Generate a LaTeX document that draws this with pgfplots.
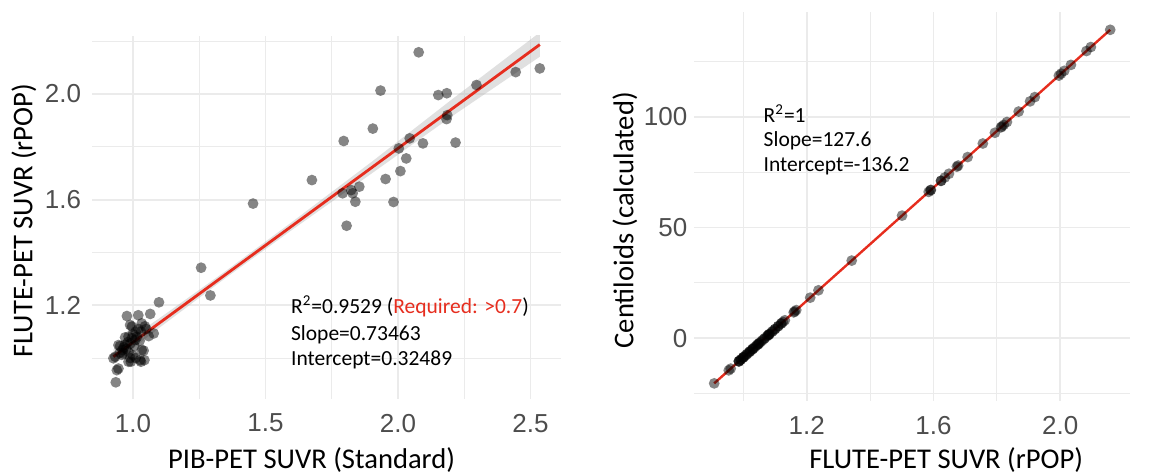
\documentclass[border=0pt]{standalone}
\usepackage{pgfplots}
\pgfplotsset{compat=1.18}
\usepackage{pgfplotstable}
\usepackage{fontspec}
\setmainfont{Carlito}
\newfontfamily\tickfont{Liberation Sans}

\definecolor{fitred}{RGB}{230,45,30}
\definecolor{ticklab}{RGB}{77,77,77}
\definecolor{gridc}{RGB}{235,235,235}

% PIB-PET SUVR vs FLUTE-PET SUVR
\pgfplotstableread{
x y
2.078 2.158
2.535 2.097
2.444 2.083
2.296 2.034
1.934 2.013
2.152 1.996
2.184 2.003
2.186 1.920
2.183 1.905
1.905 1.869
1.795 1.822
2.044 1.832
2.094 1.813
2.217 1.816
2.003 1.794
2.031 1.756
2.009 1.708
1.953 1.678
1.675 1.674
1.453 1.585
1.791 1.624
1.823 1.636
1.854 1.649
1.829 1.624
1.839 1.592
1.983 1.591
1.806 1.501
1.257 1.342
1.292 1.237
1.098 1.211
0.935 0.908
0.939 0.954
0.945 0.960
0.926 0.999
0.933 1.005
0.945 1.049
0.951 1.045
0.958 1.012
0.963 1.018
0.970 1.078
0.977 1.159
0.983 1.081
0.983 1.022
0.983 0.986
0.989 1.125
0.992 0.986
0.996 1.119
1.008 1.068
1.020 1.162
1.027 0.992
1.030 0.986
1.033 1.131
1.033 1.030
1.040 1.028
1.043 0.992
1.059 1.083
1.065 1.167
1.078 1.093
0.950 1.020
0.960 1.030
0.965 1.040
0.970 1.050
0.975 1.035
0.980 1.060
0.990 1.055
0.995 1.075
1.000 1.090
1.005 1.045
1.010 1.100
1.015 1.080
1.020 1.110
1.025 1.065
1.030 1.100
1.045 1.120
1.050 1.110
1.000 1.010
1.010 1.000
0.990 1.000
}\leftdata

% FLUTE-PET SUVR vs centiloids
\pgfplotstableread{
x y
2.158 139.16
2.097 131.38
2.083 129.59
2.034 123.34
2.013 120.66
1.996 118.49
2.003 119.38
1.920 108.79
1.905 106.88
1.869 102.28
1.822 96.29
1.832 97.56
1.813 95.14
1.816 95.52
1.794 92.71
1.756 87.87
1.708 81.74
1.678 77.91
1.674 77.40
1.585 66.05
1.624 71.02
1.636 72.55
1.649 74.21
1.624 71.02
1.592 66.94
1.591 66.81
1.501 55.33
1.342 35.04
1.237 21.64
1.211 18.32
0.908 -20.34
0.954 -14.47
0.960 -13.70
0.999 -8.73
1.005 -7.96
1.049 -2.35
1.045 -2.86
1.012 -7.07
1.018 -6.30
1.078 1.35
1.159 11.69
1.081 1.74
1.022 -5.79
0.986 -10.39
1.125 7.35
0.986 -10.39
1.119 6.58
1.068 0.08
1.162 12.07
0.992 -9.62
0.986 -10.39
1.131 8.12
1.030 -4.77
1.028 -5.03
0.992 -9.62
1.083 1.99
1.167 12.71
1.093 3.27
1.020 -6.05
1.030 -4.77
1.040 -3.50
1.050 -2.22
1.035 -4.13
1.060 -0.94
1.055 -1.58
1.075 0.97
1.090 2.88
1.045 -2.86
1.100 4.16
1.080 1.61
1.110 5.44
1.065 -0.31
1.100 4.16
1.120 6.71
1.110 5.44
1.010 -7.32
1.000 -8.60
1.000 -8.60
}\rightdata

\pgfplotsset{
  panel/.style={
    scale only axis, anchor=south west,
    axis line style={draw=none},
    major tick length=0pt, minor tick length=0pt,
    grid=both,
    major grid style={gridc, line width=0.9pt},
    minor grid style={gridc, line width=0.45pt},
    tick label style={font=\tickfont\fontsize{13}{15}\selectfont, text=ticklab},
    xticklabel style={yshift=-4pt},
    label style={font=\fontsize{14.3}{17}\selectfont, text=black, inner sep=0pt},
  },
  pts/.style={only marks, mark=*, mark size=2.7pt,
    mark options={draw opacity=0, fill=black, fill opacity=0.48}},
}
\tikzset{note/.style={anchor=base west, inner sep=0pt, font=\fontsize{10.75}{13}\selectfont}}

\begin{document}
\begin{tikzpicture}
\path[use as bounding box] (0,0) rectangle (576pt,236.5pt);

\begin{axis}[panel,
  at={(46.1pt,37.1pt)}, width=234.4pt, height=181.5pt,
  xmin=0.846, xmax=2.615, ymin=0.8455, ymax=2.2205,
  xtick={1.0,1.5,2.0,2.5}, xticklabels={1.0,1.5,2.0,2.5},
  ytick={1.2,1.6,2.0}, yticklabels={1.2,1.6,2.0},
  yticklabel style={xshift=-2pt},
  minor xtick={1.25,1.75,2.25}, minor ytick={1.0,1.4,1.8,2.2},
  xlabel={PIB-PET SUVR (Standard)},
  ylabel={FLUTE-PET SUVR (rPOP)},
  xlabel style={at={(axis description cs:0.468,-0.1686)}, anchor=center},
  ylabel style={at={(axis description cs:-0.1455,0.4906)}, anchor=center},
]
\addplot[pts] table {\leftdata};
% confidence band
\addplot[draw=none, fill=gray!60, fill opacity=0.4] coordinates {
  (0.926,1.0322) (1.1,1.1510) (1.35,1.3296) (1.6,1.5153) (1.9,1.7427) (2.2,1.9771) (2.535,2.2332)
  (2.535,2.1412) (2.2,1.9131) (1.9,1.6987) (1.6,1.4853) (1.35,1.3036) (1.1,1.1150) (0.926,0.9782)
};
\addplot[fitred, line width=1.4pt] coordinates {(0.926,1.0052) (2.535,2.1872)};
\node[note] at (axis cs:1.595,1.169) {R\textsuperscript{2}=0.9529 (\textcolor{fitred}{Required: >0.7})};
\node[note] at (axis cs:1.595,1.068) {Slope=0.73463};
\node[note] at (axis cs:1.595,0.973) {Intercept=0.32489};
\end{axis}

\begin{axis}[panel,
  at={(347.2pt,36pt)}, width=217.8pt, height=194.4pt,
  xmin=0.8455, xmax=2.2205, ymin=-28.3, ymax=147.1,
  xtick={1.2,1.6,2.0}, xticklabels={1.2,1.6,2.0},
  ytick={0,50,100}, yticklabels={0,50,100},
  minor xtick={1.0,1.4,1.8}, minor ytick={-25,25,75,125},
  xlabel={FLUTE-PET SUVR (rPOP)},
  ylabel={Centiloids (calculated)},
  xlabel style={at={(axis description cs:0.578,-0.1517)}, anchor=center},
  ylabel style={at={(axis description cs:-0.1594,0.465)}, anchor=center},
]
\addplot[pts] table {\rightdata};
\addplot[fitred, line width=1.2pt] coordinates {(0.908,-20.34) (2.158,139.16)};
\node[note] at (axis cs:1.063,97.3) {R\textsuperscript{2}=1};
\node[note] at (axis cs:1.063,86.3) {Slope=127.6};
\node[note] at (axis cs:1.063,75.2) {Intercept=-136.2};
\end{axis}
\end{tikzpicture}
\end{document}
